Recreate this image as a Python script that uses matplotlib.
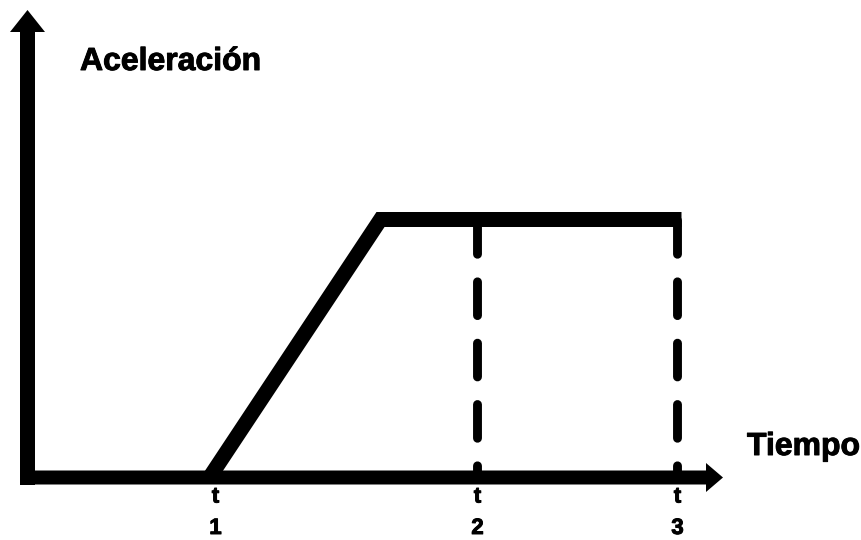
import matplotlib
matplotlib.use('Agg')
import matplotlib.pyplot as plt
import matplotlib.patheffects as pe

# acceleration profile: zero until t1, ramps up, then constant until t3
time = [1.82, 3.53, 6.54]
accel = [0.0, 2.58, 2.58]

# dashed markers and their labels along the time axis
mark_times = [4.5, 6.5]
label_times = [1.88, 4.5, 6.5]
label_nums = ['1', '2', '3']

x_label = 'Tiempo'
y_label = 'Aceleración'

FONT = 'Liberation Sans'
heavy = [pe.withStroke(linewidth=0.7, foreground='black')]

fig = plt.figure(figsize=(8.62, 5.40), dpi=100)
ax = fig.add_axes([0, 0, 1, 1])
ax.set_xlim(-0.275, 8.345)
ax.set_ylim(-0.625, 4.775)
ax.axis('off')

# hand-drawn style axes with arrow heads
ax.arrow(-0.075, 0, 7.03, 0, width=0.14, head_width=0.29, head_length=0.17,
         length_includes_head=True, color='black', lw=0, zorder=3)
ax.arrow(0, -0.075, 0, 4.75, width=0.15, head_width=0.35, head_length=0.22,
         length_includes_head=True, color='black', lw=0, zorder=3)

# acceleration curve
ax.plot(time, accel, color='black', lw=10.8, solid_joinstyle='miter',
        solid_capstyle='butt', zorder=4)

# dashed verticals at t2 and t3
for t in mark_times:
    ax.plot([t, t], [accel[-1], 0], color='black', lw=6.4,
            dashes=(3.8, 3.1), dash_capstyle='round', zorder=2)

for t, n in zip(label_times, label_nums):
    ax.text(t, -0.195, 't', ha='center', va='center', fontsize=16,
            fontweight='bold', family=FONT, path_effects=heavy)
    ax.text(t, -0.51, n, ha='center', va='center', fontsize=16,
            fontweight='bold', family=FONT, path_effects=heavy)

ax.text(0.525, 4.155, y_label, ha='left', va='center', fontsize=23,
        fontweight='bold', family=FONT, path_effects=heavy)
ax.text(7.195, 0.305, x_label, ha='left', va='center', fontsize=23,
        fontweight='bold', family=FONT, path_effects=heavy)

fig.savefig('out.png', dpi=100)
